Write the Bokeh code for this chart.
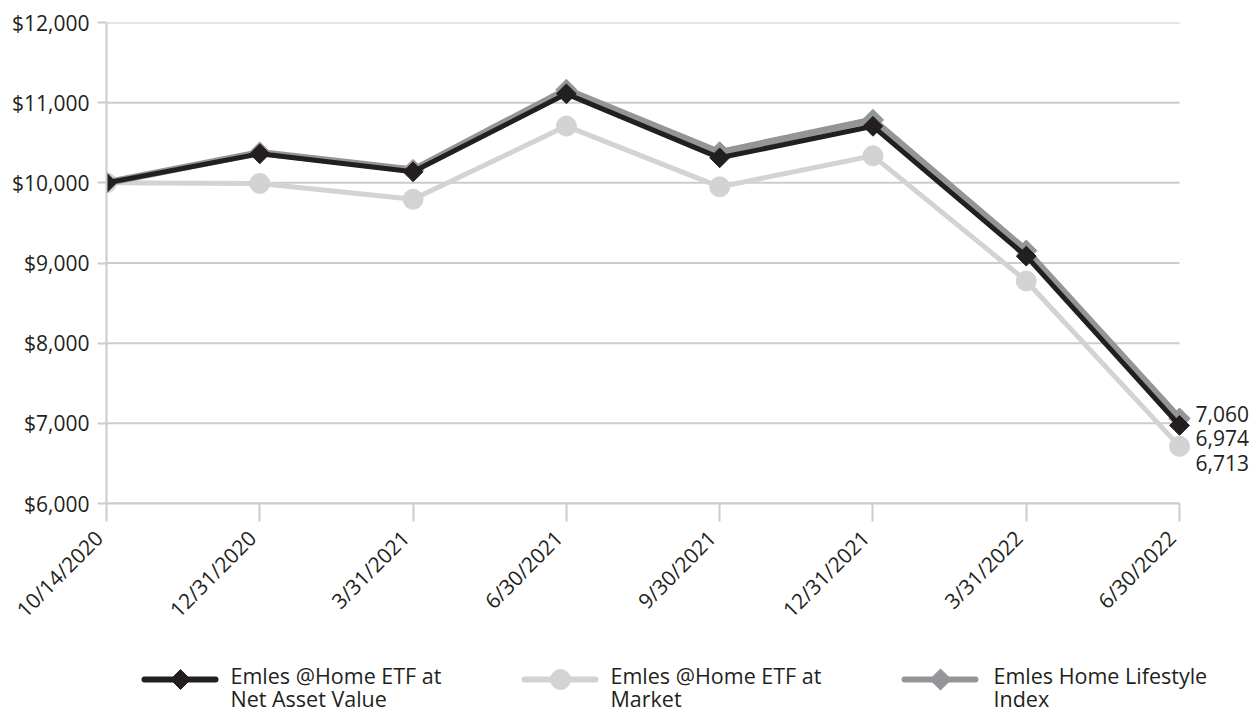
from math import pi

from bokeh.core.properties import value
from bokeh.embed import file_html
from bokeh.layouts import column
from bokeh.models import ColumnDataSource, FixedTicker, NumeralTickFormatter, Range1d
from bokeh.plotting import figure
from bokeh.resources import INLINE

# Growth of a hypothetical $10,000 investment
dates = ["10/14/2020", "12/31/2020", "3/31/2021", "6/30/2021",
         "9/30/2021", "12/31/2021", "3/31/2022", "6/30/2022"]
nav = [10000, 10362, 10137, 11110, 10312, 10705, 9085, 6974]
market = [10000, 9992, 9795, 10708, 9950, 10337, 8775, 6713]
index = [10000, 10378, 10160, 11160, 10380, 10785, 9155, 7060]

legend_lines = [("Emles @Home ETF at", "Net Asset Value"),
                ("Emles @Home ETF at", "Market"),
                ("Emles Home Lifestyle", "Index")]
y_ticks = [6000, 7000, 8000, 9000, 10000, 11000, 12000]

FONT = "Open Sans"
TEXT = "#231f20"
NAV_C = "#231f20"
MKT_C = "#d1d3d4"
IDX_C = "#939598"
GRID_C = "#cccccc"
FS = "21px"
LEG_FS = "21.5px"

xs = list(range(len(dates)))
last = len(dates) - 1
src = ColumnDataSource(dict(x=xs, nav=nav, market=market, index=index))

# the frame runs past the last date to leave room for the end values
p = figure(width=1252, height=635, output_backend="svg", toolbar_location=None,
           x_range=Range1d(0, last + 0.476), y_range=Range1d(y_ticks[0], y_ticks[-1]),
           min_border_left=106, min_border_right=0, min_border_top=22, min_border_bottom=132)
p.outline_line_color = None
p.background_fill_color = "white"
p.border_fill_color = "white"
p.grid.visible = False

# horizontal gridlines, stopping at the last date
p.segment(x0=0, x1=last, y0=y_ticks, y1=y_ticks, line_color=GRID_C, line_width=2,
          level="underlay")

# market (bottom), index, NAV (top)
p.line("x", "market", source=src, line_color=MKT_C, line_width=5, line_cap="round")
p.scatter("x", "market", source=src, marker="circle", size=20,
          fill_color=MKT_C, line_color=MKT_C)
p.line("x", "index", source=src, line_color=IDX_C, line_width=7, line_cap="round")
p.scatter("x", "index", source=src, marker="square", angle=pi / 4, size=15,
          fill_color=IDX_C, line_color=IDX_C)
p.line("x", "nav", source=src, line_color=NAV_C, line_width=5, line_cap="round")
p.scatter("x", "nav", source=src, marker="square", angle=pi / 4, size=14,
          fill_color=NAV_C, line_color=NAV_C)

# end-of-period values, stacked to the right of the last point
end_src = ColumnDataSource(dict(
    x=[last, last, last],
    y=[index[last], nav[last], market[last]],
    label=[f"{index[last]:,}", f"{nav[last]:,}", f"{market[last]:,}"],
    dy=[-5, 13, 17],
))
p.text("x", "y", text="label", source=end_src, x_offset=16, y_offset="dy",
       text_font=value(FONT), text_font_size=FS, text_color=TEXT,
       text_baseline="middle", text_align="left")

# axes
p.yaxis.ticker = FixedTicker(ticks=y_ticks)
p.yaxis.formatter = NumeralTickFormatter(format="$0,0")
p.yaxis.axis_line_color = GRID_C
p.yaxis.axis_line_width = 2
p.yaxis.major_tick_line_color = GRID_C
p.yaxis.major_tick_line_width = 2
p.yaxis.major_tick_out = 9
p.yaxis.major_tick_in = 0
p.yaxis.minor_tick_line_color = None
p.yaxis.major_label_standoff = 8

p.xaxis.ticker = FixedTicker(ticks=xs)
p.xaxis.bounds = (0, last)
# two no-break spaces pull each slanted date back from its tick
p.xaxis.major_label_overrides = {i: d + "\u00a0\u00a0" for i, d in enumerate(dates)}
p.xaxis.major_label_orientation = pi / 4
p.xaxis.axis_line_color = GRID_C
p.xaxis.axis_line_width = 2
p.xaxis.major_tick_line_color = GRID_C
p.xaxis.major_tick_line_width = 2
p.xaxis.major_tick_out = 18
p.xaxis.major_tick_in = 0
p.xaxis.minor_tick_line_color = None
p.xaxis.major_label_standoff = 5

for ax in (p.xaxis, p.yaxis):
    ax.major_label_text_font = FONT
    ax.major_label_text_font_size = FS
    ax.major_label_text_color = TEXT

# legend strip; its frame lines up with the chart frame, so x is in page pixels
lg = figure(width=1252, height=78, output_backend="svg", toolbar_location=None,
            x_range=Range1d(106, 1252), y_range=Range1d(0, 78),
            min_border_left=106, min_border_right=0, min_border_top=0, min_border_bottom=0)
lg.axis.visible = False
lg.grid.visible = False
lg.outline_line_color = None

key_x = [144, 524, 904]
text_x = [230, 610, 993]
colors = [NAV_C, MKT_C, IDX_C]
markers = ["square", "circle", "square"]
msizes = [14, 20, 15]
angles = [pi / 4, 0, pi / 4]
key_y = 34
row_y = 38
for i in range(3):
    lg.segment(x0=key_x[i], y0=key_y, x1=key_x[i] + 71, y1=key_y,
               line_color=colors[i], line_width=6, line_cap="round")
    lg.scatter(x=[key_x[i] + 36], y=[key_y], marker=markers[i], size=msizes[i],
               angle=angles[i], fill_color=colors[i], line_color=colors[i])
    lg.text(x=[text_x[i]], y=[row_y], text=[legend_lines[i][0]],
            text_font=value(FONT), text_font_size=LEG_FS, text_color=TEXT,
            text_baseline="middle")
    lg.text(x=[text_x[i]], y=[row_y - 23], text=[legend_lines[i][1]],
            text_font=value(FONT), text_font_size=LEG_FS, text_color=TEXT,
            text_baseline="middle")

layout = column(p, lg, spacing=0)
open("out.html", "w").write(file_html(layout, INLINE))
